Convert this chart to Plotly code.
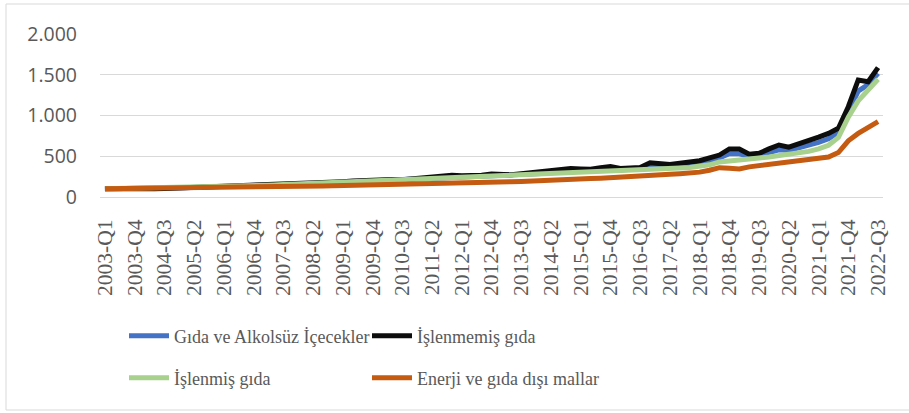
import plotly.graph_objects as go

quarters = [f"{y}-Q{q}" for y in range(2003, 2023) for q in range(1, 5)][:79]

gida_alkolsuz = [100, 100, 100, 101, 103, 105, 108, 111, 114, 117, 120, 124, 128, 132, 136, 141,
                 146, 151, 156, 160, 163, 167, 172, 177, 182, 187, 193, 200, 206, 206, 207, 214,
                 222, 230, 239, 247, 247, 248, 256, 266, 265, 265, 274, 284, 288, 298, 308, 318,
                 318, 318, 331, 342, 332, 336, 345, 380, 380, 375, 385, 400, 415, 450, 480, 530,
                 530, 500, 508, 545, 580, 570, 600, 640, 670, 715, 790, 1050, 1300, 1380, 1518]

islenmemis = [100, 98, 96, 97, 99, 101, 104, 108, 112, 115, 119, 124, 130, 135, 140, 145,
              150, 155, 160, 163, 165, 170, 176, 182, 188, 195, 203, 212, 220, 215, 212, 222,
              235, 245, 258, 268, 262, 258, 268, 282, 276, 272, 285, 300, 305, 320, 335, 350,
              345, 340, 358, 373, 350, 352, 362, 420, 415, 400, 415, 430, 445, 480, 515, 590,
              590, 525, 536, 590, 638, 612, 650, 700, 735, 780, 843, 1108, 1436, 1415, 1587]

islenmis = [100, 102, 104, 106, 108, 110, 112, 114, 116, 118, 121, 124, 127, 130, 133, 137,
            142, 147, 152, 157, 161, 165, 169, 173, 177, 181, 185, 189, 193, 197, 201, 205,
            210, 215, 220, 226, 232, 238, 244, 249, 254, 258, 262, 266, 270, 275, 280, 285,
            290, 296, 302, 308, 314, 320, 327, 335, 342, 348, 355, 362, 372, 395, 430, 445,
            455, 465, 478, 490, 505, 520, 535, 560, 590, 635, 730, 980, 1180, 1310, 1444]

enerji_disi = [100, 101, 102, 103, 105, 106, 107, 108, 110, 111, 112, 114, 116, 118, 121, 123,
               125, 127, 129, 131, 133, 135, 136, 138, 140, 142, 144, 146, 148, 150, 153, 156,
               160, 164, 168, 171, 174, 176, 179, 182, 185, 188, 191, 194, 200, 207, 212, 216,
               221, 226, 231, 236, 240, 247, 256, 264, 272, 279, 286, 294, 305, 328, 360, 352,
               345, 370, 385, 398, 410, 420, 433, 450, 470, 490, 545, 690, 780, 850, 924]

series_names = ["Gıda ve Alkolsüz İçecekler", "İşlenmemiş gıda", "İşlenmiş gıda",
                "Enerji ve gıda dışı mallar"]
series_colors = ["#4472C4", "#0D0D0D", "#A9D18E", "#C55A11"]
series_values = [gida_alkolsuz, islenmemis, islenmis, enerji_disi]
legend_ids = ["legend", "legend2", "legend3", "legend4"]

y_tickvals = [0, 500, 1000, 1500, 2000]
y_ticktext = ["0", "500", "1.000", "1.500", "2.000"]
x_tickvals = quarters[::3]

fig = go.Figure()
for name, color, vals, lg in zip(series_names, series_colors, series_values, legend_ids):
    fig.add_trace(go.Scatter(x=quarters, y=vals, mode="lines", name=name,
                             line=dict(color=color, width=5), legend=lg))

L, R, T, B = 100, 26, 34, 216
W, H = 909, 413
pw, ph = W - L - R, H - T - B

def px_x(p):
    return (p - L) / pw

def px_y(p):
    return (H - B - p) / ph

serif = "'Liberation Serif', 'Times New Roman', Times, serif"
legend_font = dict(family=serif, size=18, color="#595959")
leg_common = dict(font=legend_font, bgcolor="rgba(0,0,0,0)", xanchor="left",
                  yanchor="middle", itemwidth=40)

fig.update_layout(
    width=W, height=H,
    margin=dict(l=L, r=R, t=T, b=B),
    paper_bgcolor="white", plot_bgcolor="white",
    showlegend=True,
    legend=dict(x=px_x(124), y=px_y(336), **leg_common),
    legend2=dict(x=px_x(367), y=px_y(336), **leg_common),
    legend3=dict(x=px_x(124), y=px_y(378), **leg_common),
    legend4=dict(x=px_x(367), y=px_y(378), **leg_common),
    xaxis=dict(type="category", range=[-0.5, 78.5], tickmode="array",
               tickvals=x_tickvals, ticktext=x_tickvals, tickangle=-90,
               tickfont=dict(family=serif, size=21.5, color="#595959"),
               showgrid=False, showline=True, linecolor="#D9D9D9", linewidth=1,
               ticks="", ticklabelstandoff=13, zeroline=False),
    yaxis=dict(range=[0, 2000], tickmode="array", tickvals=y_tickvals,
               ticktext=y_ticktext, showgrid=True, gridcolor="#D9D9D9", gridwidth=1,
               tickfont=dict(family="Open Sans", size=19.5, color="#595959"),
               zeroline=False, showline=False, ticks="", ticklabelstandoff=22),
    shapes=[dict(type="rect", xref="paper", yref="paper",
                 x0=px_x(6), x1=px_x(915), y0=px_y(410), y1=px_y(4),
                 line=dict(color="#D9D9D9", width=1), fillcolor="rgba(0,0,0,0)",
                 layer="below")],
)

fig.write_html("out.html", config={"displayModeBar": False},
               post_script="document.body.style.margin='0';document.body.style.padding='0';")
